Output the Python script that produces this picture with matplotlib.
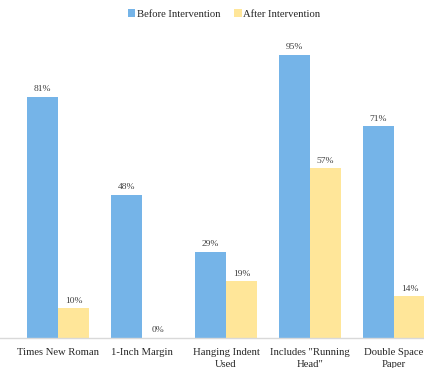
import matplotlib.pyplot as plt
import numpy as np

categories = ["Times New Roman", "1-Inch Margin", "Hanging Indent\nUsed",
              "Includes \"Running\nHead\"", "Double Space\nPaper"]
before = [81, 48, 29, 95, 71]
after = [10, 0, 19, 57, 14]

plt.rcParams['font.family'] = ['Liberation Serif', 'DejaVu Serif']

fig = plt.figure(figsize=(4.24, 3.68), dpi=100)
ax = fig.add_axes([0, 30 / 368, 1, 298 / 368])

x = np.arange(len(categories))
w = 31 / 84
b1 = ax.bar(x - w / 2, before, width=w, color="#75B4E8", label="Before Intervention")
b2 = ax.bar(x + w / 2, after, width=w, color="#FFE699", label="After Intervention")

for bars, vals in [(b1, before), (b2, after)]:
    for r, v in zip(bars, vals):
        ax.text(r.get_x() + r.get_width() / 2, v + 1.2, f"{v}%",
                ha="center", va="bottom", fontsize=6.8, color="#404040")

ax.set_xlim(-58 / 84, 366 / 84)
ax.set_ylim(0, 100)
ax.set_xticks(x)
ax.set_xticklabels(categories, fontsize=7.7, color="#262626", linespacing=1.45)
ax.tick_params(axis="x", length=0, pad=7)
ax.set_yticks([])
for s in ["top", "right", "left"]:
    ax.spines[s].set_visible(False)
ax.spines["bottom"].set_color("#D9D9D9")
ax.spines["bottom"].set_linewidth(1)

fig.legend(loc="center", bbox_to_anchor=(224 / 424, 1 - 14 / 368), ncol=2,
           frameon=False, fontsize=7.7, handlelength=0.7, handleheight=0.7,
           handletextpad=0.15, columnspacing=1.3, labelcolor="#262626")

fig.savefig("out.png", dpi=100)
